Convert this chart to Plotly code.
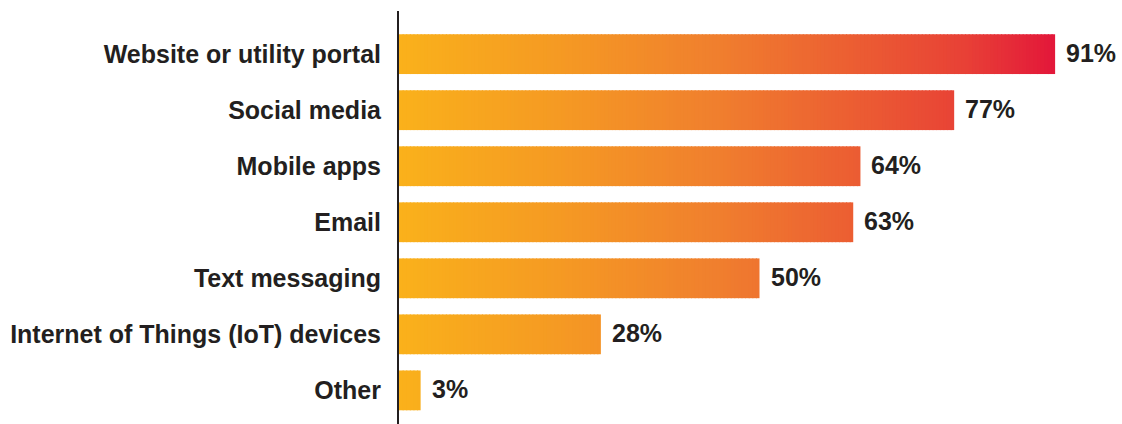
import plotly.graph_objects as go
import numpy as np

categories = ["Website or utility portal", "Social media", "Mobile apps", "Email",
              "Text messaging", "Internet of Things (IoT) devices", "Other"]
values = [91, 77, 64, 63, 50, 28, 3]

# gradient colour stops along the value axis (value, hex colour)
grad_pos = [0, 22, 44, 65, 78, 91]
grad_col = ["#FAB11B", "#F59A23", "#F07F2E", "#EB5A33", "#E84236", "#E3173A"]


def hex2rgb(h):
    h = h.lstrip("#")
    return [int(h[i:i + 2], 16) for i in (0, 2, 4)]


stop_rgb = np.array([hex2rgb(c) for c in grad_col], dtype=float)


def colour_at(v):
    r = [np.interp(v, grad_pos, stop_rgb[:, k]) for k in range(3)]
    return "rgb(%d,%d,%d)" % tuple(int(round(c)) for c in r)


fig = go.Figure()
step = 0.5
vmax = max(values)
n_seg = int(np.ceil(vmax / step))
for k in range(n_seg):
    base = k * step
    widths = [max(0.0, min(v - base, step + 0.15)) for v in values]
    fig.add_trace(go.Bar(
        y=categories, x=widths, base=[base] * len(values), orientation="h",
        marker=dict(color=colour_at(base + step / 2), line=dict(width=0)),
        width=0.71, showlegend=False, hoverinfo="skip",
    ))

for c, v in zip(categories, values):
    fig.add_annotation(x=v, y=c, text=f"{v}%", showarrow=False, xanchor="left",
                       xshift=9, yshift=1,
                       font=dict(family="Liberation Sans, Arial, sans-serif", size=25,
                                 color="#231F20"))

fig.update_layout(
    width=1122, height=424,
    margin=dict(l=399, r=2, t=11, b=0),
    barmode="overlay",
    plot_bgcolor="white", paper_bgcolor="white",
    font=dict(family="Liberation Sans, Arial, sans-serif", size=25, color="#231F20"),
    xaxis=dict(range=[0, 100], visible=False, fixedrange=True),
    yaxis=dict(categoryorder="array", categoryarray=categories,
               range=[6.6, -0.77], showline=True, linecolor="#231F20", linewidth=2,
               ticks="", showgrid=False, zeroline=False, ticklabelstandoff=11,
               tickfont=dict(family="Liberation Sans, Arial, sans-serif", size=25,
                             color="#231F20", weight="bold")),
)
fig.update_annotations(font_weight="bold")

fig.write_html("out.html")
